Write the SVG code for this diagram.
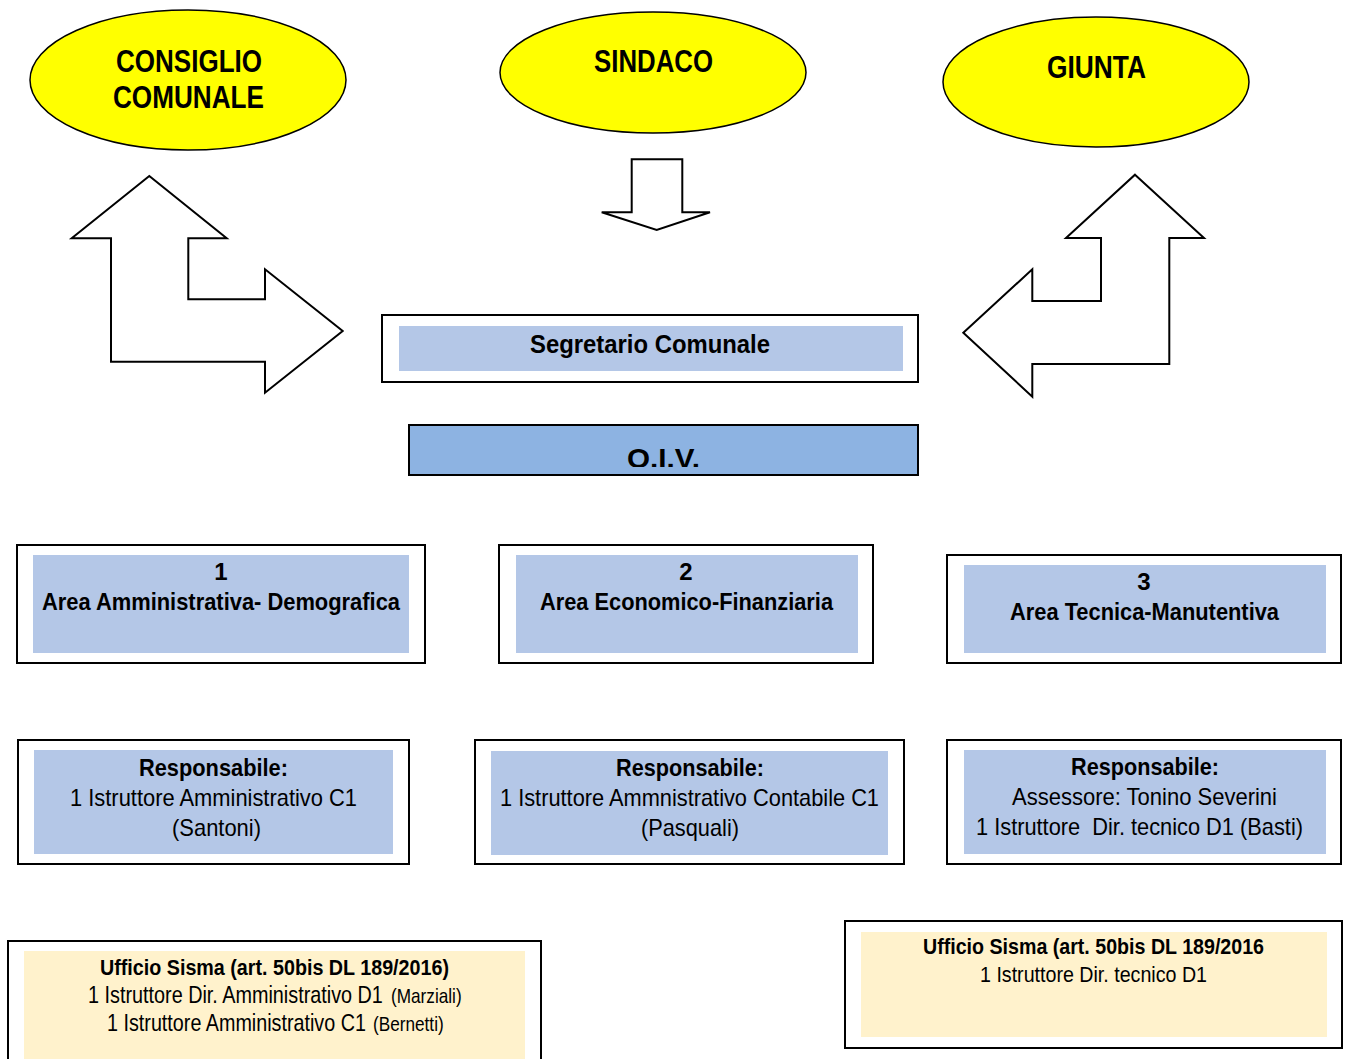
<svg xmlns="http://www.w3.org/2000/svg" width="1347" height="1059" viewBox="0 0 1347 1059">
<style>
.ell{fill:#FFFF00;stroke:#000;stroke-width:1.5}
.arr{fill:#fff;stroke:#000;stroke-width:2;stroke-linejoin:miter}
.outer{fill:#fff;stroke:#000;stroke-width:2}
.blue{fill:#B4C7E7}
.beige{fill:#FFF2CC}
text{font-family:"Liberation Sans Narrow","Arial Narrow","Liberation Sans",Arial,sans-serif;fill:#000;text-anchor:middle}
.big{font-size:31px;font-weight:bold}
.h{font-size:24px;font-weight:bold}
.n{font-size:24px}
.m{font-size:22px}
.sm{font-size:20px}
.st{text-anchor:start}
</style>
<defs>
<clipPath id="oivclip"><rect x="409" y="425" width="509" height="42"/></clipPath>
</defs>
<g id="consiglio">
<ellipse class="ell" cx="188" cy="80" rx="158" ry="70"/>
<text class="big" x="189" y="72" textLength="146" lengthAdjust="spacingAndGlyphs">CONSIGLIO</text>
<text class="big" x="188.5" y="108" textLength="151" lengthAdjust="spacingAndGlyphs">COMUNALE</text>
</g>
<g id="sindaco">
<ellipse class="ell" cx="653" cy="72.5" rx="153" ry="60.5"/>
<text class="big" x="653.5" y="72" textLength="119" lengthAdjust="spacingAndGlyphs">SINDACO</text>
</g>
<g id="giunta">
<ellipse class="ell" cx="1096" cy="82" rx="153" ry="65"/>
<text class="big" x="1096.5" y="78" textLength="99" lengthAdjust="spacingAndGlyphs">GIUNTA</text>
</g>
<g id="connectors">
<polygon class="arr" points="149.3,176 71.7,238.3 111,238.3 111,361.7 265,361.7 265,392.7 342.7,331 265,269.3 265,299.3 188.3,299.3 188.3,238.3 226.7,238.3"/>
<polygon class="arr" points="1135,174.7 1204,238 1169.3,238 1169.3,364 1032.3,364 1032.3,396.7 963.3,332.7 1032.3,269.3 1032.3,301 1101,301 1101,238 1066,238"/>
<polygon class="arr" points="631.7,159.3 682.3,159.3 682.3,212.3 710,212.3 656.7,230 601.7,212.3 631.7,212.3"/>
</g>
<g id="segretario">
<rect class="outer" x="382" y="315" width="536" height="67"/>
<rect class="blue" x="399" y="326" width="504" height="45"/>
<text class="h" x="650" y="353" style="font-size:26px" textLength="240" lengthAdjust="spacingAndGlyphs">Segretario Comunale</text>
</g>
<g id="oiv">
<rect x="409" y="425" width="509" height="50" fill="#8DB3E2" stroke="#000" stroke-width="2"/>
<text x="663.5" y="468" clip-path="url(#oivclip)" textLength="73" lengthAdjust="spacingAndGlyphs" style="font-family:'Liberation Sans',Arial,sans-serif;font-size:28px;font-weight:bold">O.I.V.</text>
</g>
<g id="area1">
<rect class="outer" x="17" y="545" width="408" height="118"/>
<rect class="blue" x="33" y="555" width="376" height="98"/>
<text class="h" x="221" y="580">1</text>
<text class="h" x="221" y="610" textLength="358" lengthAdjust="spacingAndGlyphs">Area Amministrativa- Demografica</text>
</g>
<g id="area2">
<rect class="outer" x="499" y="545" width="374" height="118"/>
<rect class="blue" x="516" y="555" width="342" height="98"/>
<text class="h" x="686" y="580">2</text>
<text class="h" x="686.5" y="610" textLength="293" lengthAdjust="spacingAndGlyphs">Area Economico-Finanziaria</text>
</g>
<g id="area3">
<rect class="outer" x="947" y="555" width="394" height="108"/>
<rect class="blue" x="964" y="565" width="362" height="88"/>
<text class="h" x="1144" y="590">3</text>
<text class="h" x="1144.5" y="620" textLength="269" lengthAdjust="spacingAndGlyphs">Area Tecnica-Manutentiva</text>
</g>
<g id="resp1">
<rect class="outer" x="18" y="740" width="391" height="124"/>
<rect class="blue" x="34" y="750" width="359" height="104"/>
<text class="h" x="213.5" y="776" textLength="149" lengthAdjust="spacingAndGlyphs">Responsabile:</text>
<text class="n" x="213.5" y="806" textLength="287" lengthAdjust="spacingAndGlyphs">1 Istruttore Amministrativo C1</text>
<text class="n" x="216.5" y="836" textLength="89" lengthAdjust="spacingAndGlyphs">(Santoni)</text>
</g>
<g id="resp2">
<rect class="outer" x="475" y="740" width="429" height="124"/>
<rect class="blue" x="491" y="751" width="397" height="104"/>
<text class="h" x="690" y="776" textLength="148" lengthAdjust="spacingAndGlyphs">Responsabile:</text>
<text class="n" x="689.5" y="806" textLength="379" lengthAdjust="spacingAndGlyphs">1 Istruttore Ammnistrativo Contabile C1</text>
<text class="n" x="690" y="836" textLength="98" lengthAdjust="spacingAndGlyphs">(Pasquali)</text>
</g>
<g id="resp3">
<rect class="outer" x="947" y="740" width="394" height="124"/>
<rect class="blue" x="964" y="750" width="362" height="104"/>
<text class="h" x="1145" y="775" textLength="148" lengthAdjust="spacingAndGlyphs">Responsabile:</text>
<text class="n" x="1144.5" y="805" textLength="265" lengthAdjust="spacingAndGlyphs">Assessore: Tonino Severini</text>
<text class="n" x="1139.5" y="835" xml:space="preserve" textLength="327" lengthAdjust="spacingAndGlyphs">1 Istruttore  Dir. tecnico D1 (Basti)</text>
</g>
<g id="sisma1">
<rect class="outer" x="8" y="941" width="533" height="130"/>
<rect class="beige" x="24" y="951" width="501" height="108"/>
<text class="h m" x="274.5" y="975" textLength="349" lengthAdjust="spacingAndGlyphs">Ufficio Sisma (art. 50bis DL 189/2016)</text>
<text class="n st" transform="translate(88,1003) scale(0.825,1)">1 Istruttore Dir. Amministrativo D1</text>
<text class="sm st" transform="translate(391,1003) scale(0.86,1)">(Marziali)</text>
<text class="n st" transform="translate(107,1031) scale(0.823,1)">1 Istruttore Amministrativo C1</text>
<text class="sm st" transform="translate(373,1031) scale(0.86,1)">(Bernetti)</text>
</g>
<g id="sisma2">
<rect class="outer" x="845" y="921" width="497" height="127"/>
<rect class="beige" x="861" y="932" width="466" height="105"/>
<text class="h m" x="1093.5" y="954" textLength="341" lengthAdjust="spacingAndGlyphs">Ufficio Sisma (art. 50bis DL 189/2016</text>
<text class="m" x="1093.5" y="982" textLength="227" lengthAdjust="spacingAndGlyphs">1 Istruttore Dir. tecnico D1</text>
</g>
</svg>
